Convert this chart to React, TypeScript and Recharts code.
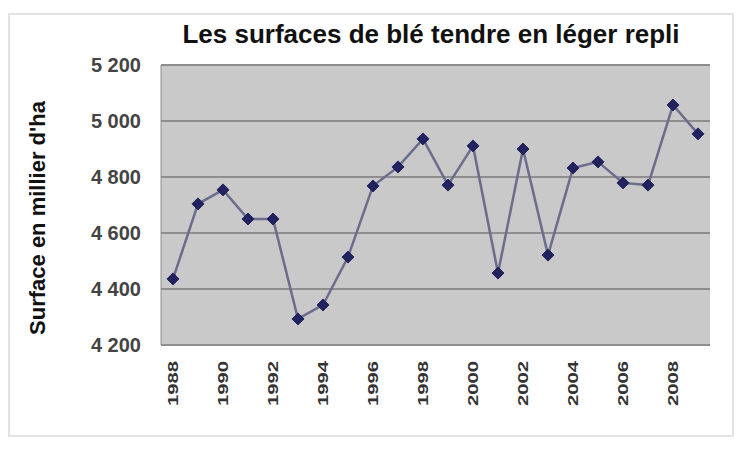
import React from 'react';
import { ComposedChart, Line, XAxis, YAxis, CartesianGrid } from 'recharts';

const years = ['1988', '1989', '1990', '1991', '1992', '1993', '1994', '1995', '1996', '1997', '1998',
  '1999', '2000', '2001', '2002', '2003', '2004', '2005', '2006', '2007', '2008', '2009'];
const surfaces = [4436, 4704, 4754, 4650, 4650, 4293, 4343, 4514, 4768, 4836, 4936,
  4771, 4911, 4457, 4900, 4521, 4832, 4854, 4779, 4771, 5057, 4954];
const yTicks = [4200, 4400, 4600, 4800, 5000, 5200];

const data = years.map((year, i) => ({ year, surface: surfaces[i] }));

const fmt = (v: number) => {
  const s = String(v);
  return s.length > 3 ? s.slice(0, s.length - 3) + ' ' + s.slice(-3) : s;
};

const FONT = '"Liberation Sans", Arial, sans-serif';

const YearTick = (props: any) => {
  const { x, y, payload } = props;
  return (
    <g transform={`translate(${x} ${y + 8}) rotate(-90) scale(1.35 1)`}>
      <text x={0} y={5} textAnchor="end" fontSize={15} fontWeight="bold" fill="#333" fontFamily={FONT}>
        {payload.value}
      </text>
    </g>
  );
};

const YLabel = (props: any) => {
  const { viewBox } = props;
  const cx = 37;
  const cy = viewBox.y + viewBox.height / 2 + 13;
  return (
    <text
      x={cx}
      y={cy}
      transform={`rotate(-90 ${cx} ${cy})`}
      textAnchor="middle"
      dominantBaseline="central"
      fontSize={22}
      fontWeight="bold"
      fill="#111"
      fontFamily={FONT}
    >
      Surface en millier d'ha
    </text>
  );
};

const Diamond = (props: any) => {
  const { cx, cy, index } = props;
  if (cx == null || cy == null) return <g key={index} />;
  const r = 6;
  return (
    <polygon
      key={index}
      points={`${cx},${cy - r} ${cx + r},${cy} ${cx},${cy + r} ${cx - r},${cy}`}
      fill="#22225e"
      stroke="#22225e"
    />
  );
};

export default function App() {
  return (
    <div style={{ position: 'absolute', left: 0, top: 0, width: 747, height: 455, background: '#fff' }}>
      <div
        style={{
          position: 'absolute',
          left: 8,
          top: 13,
          width: 726,
          height: 424,
          border: '2px solid #e2e2e2',
          boxSizing: 'border-box',
        }}
      />
      <div
        style={{
          position: 'absolute',
          left: 0,
          width: 862,
          top: 19,
          textAlign: 'center',
          fontFamily: FONT,
          fontWeight: 'bold',
          fontSize: 26,
          color: '#111',
        }}
      >
        Les surfaces de blé tendre en léger repli
      </div>
      <div style={{ position: 'absolute', left: 0, top: 0 }}>
        <ComposedChart width={747} height={455} data={data} margin={{ top: 65, right: 37, bottom: 0, left: 20 }}>
          <CartesianGrid vertical={false} fill="#c9c9c9" stroke="#8e8e8e" strokeWidth={2} fillOpacity={1} />
          <XAxis
            dataKey="year"
            interval={1}
            padding={{ left: 12, right: 12 }}
            tick={<YearTick />}
            tickLine={false}
            axisLine={{ stroke: '#8e8e8e' }}
            height={110}
          />
          <YAxis
            domain={[4200, 5200]}
            ticks={yTicks}
            tickFormatter={fmt}
            tick={{ fontSize: 20, fill: '#444', fontFamily: FONT, fontWeight: 'bold' }}
            tickLine={false}
            axisLine={{ stroke: '#8e8e8e' }}
            width={141}
            tickMargin={14}
            label={<YLabel />}
          />
          <YAxis yAxisId="r" orientation="right" width={0} tick={false} tickLine={false} axisLine={{ stroke: '#8e8e8e' }} />
          <Line
            dataKey="surface"
            stroke="#6c6c8c"
            strokeWidth={2.5}
            dot={<Diamond />}
            isAnimationActive={false}
          />
        </ComposedChart>
      </div>
    </div>
  );
}
